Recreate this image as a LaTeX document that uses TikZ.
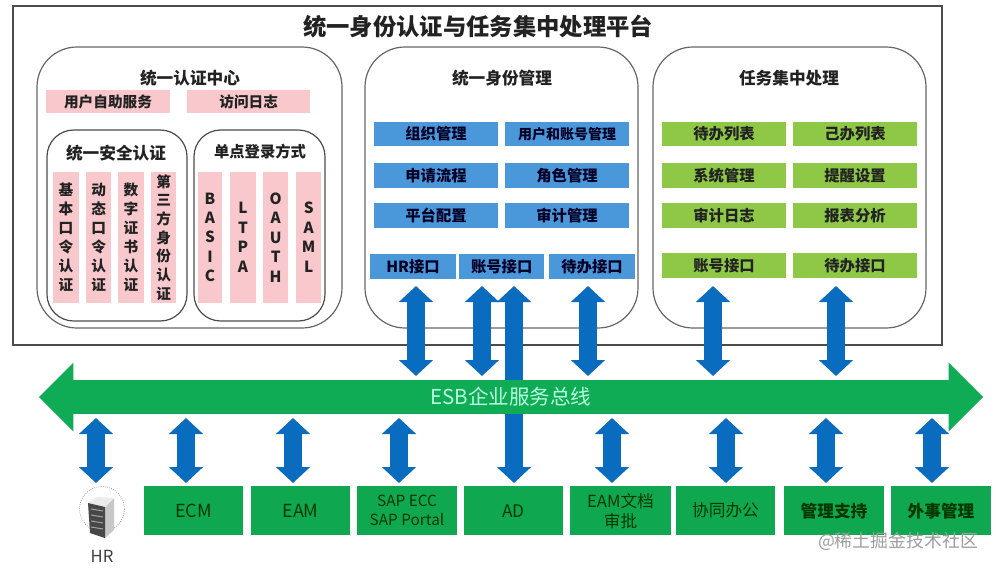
\documentclass[tikz,border=0pt]{standalone}
\usepackage{fontspec}
\setmainfont{Noto Sans CJK SC}
\usetikzlibrary{arrows.meta,shapes.arrows}
\definecolor{pinkbox}{HTML}{F8C8CC}
\definecolor{bluebox}{HTML}{4A98DA}
\definecolor{limebox}{HTML}{8FC847}
\definecolor{greenbox}{HTML}{0FA850}
\definecolor{busgreen}{HTML}{10AC55}
\definecolor{flowblue}{HTML}{0A6CBE}
\definecolor{inkdark}{HTML}{222222}
\newcommand{\sz}[2]{\fontsize{#1}{#2}\selectfont}
\tikzset{
  x=0.75pt,y=-0.75pt,
  panel/.style={draw=black!60,line width=0.9pt,fill=white,rounded corners=30pt},
  subpanel/.style={draw=black!70,line width=0.9pt,fill=white,rounded corners=20pt},
  plate/.style={anchor=north west,inner sep=0pt,outer sep=0pt,align=center,text=inkdark},
  pinkplate/.style={plate,fill=pinkbox},
  blueplate/.style={plate,fill=bluebox,text=black!85!blue},
  limeplate/.style={plate,fill=limebox},
  sysplate/.style={plate,fill=greenbox,text=black!78!green,minimum height=37pt},
  heading/.style={text=inkdark,inner sep=0pt},
  flow/.style={draw=flowblue,line width=12.8pt,{Triangle[width=25pt,length=12pt]}-{Triangle[width=25pt,length=12pt]}},
}
\begin{document}
\begin{tikzpicture}
\useasboundingbox (0,0) rectangle (996,568);
\fill[white] (0,0) rectangle (996,568);
% outer frame
\draw[draw=black!70,line width=1.5pt,fill=white] (13,6) rectangle (942,345);
\node[heading,font=\bfseries\sz{17.5}{20}] (title) at (478,26.5) {统一身份认证与任务集中处理平台};
% panels
\draw[panel] (37,47) rectangle (342,328);
\draw[panel] (365,47) rectangle (638,328);
\draw[panel] (653,47) rectangle (926,328);
\draw[subpanel] (47,130) rectangle (187,321);
\draw[subpanel] (194,130) rectangle (325,321);
\node[heading,font=\bfseries\sz{12.5}{15}] (t1) at (190,78) {统一认证中心};
\node[heading,font=\bfseries\sz{12.5}{15}] (t2) at (502,78) {统一身份管理};
\node[heading,font=\bfseries\sz{12.5}{15}] (t3) at (789,78) {任务集中处理};
\node[heading,font=\bfseries\sz{12.5}{15}] (t4) at (116,153) {统一安全认证};
\node[heading,font=\bfseries\sz{11.5}{14}] (t5) at (260,152) {单点登录方式};
% pink plates
\node[pinkplate,font=\bfseries\sz{11}{13},minimum width=93pt,minimum height=17.5pt] (p1) at (46,90) {用户自助服务};
\node[pinkplate,font=\bfseries\sz{11}{13},minimum width=92.5pt,minimum height=17.5pt] (p2) at (187,90) {访问日志};
\node[pinkplate,font=\bfseries\sz{11}{14.2},minimum width=19.5pt,minimum height=98pt] (v1) at (53,172) {基\\本\\口\\令\\认\\证};
\node[pinkplate,font=\bfseries\sz{11}{14.2},minimum width=19pt,minimum height=98pt] (v2) at (86,172) {动\\态\\口\\令\\认\\证};
\node[pinkplate,font=\bfseries\sz{11}{14.2},minimum width=19.5pt,minimum height=98pt] (v3) at (118,172) {数\\字\\证\\书\\认\\证};
\node[pinkplate,font=\bfseries\sz{11}{14},minimum width=19pt,minimum height=98pt] (v4) at (151,172) {第\\三\\方\\身\\份\\认\\证};
\node[pinkplate,font=\bfseries\sz{11.5}{14.6},minimum width=18pt,minimum height=98pt] (s1) at (198,172) {B\\A\\S\\I\\C};
\node[pinkplate,font=\bfseries\sz{11.5}{14.6},minimum width=19.5pt,minimum height=98pt] (s2) at (230,172) {L\\T\\P\\A};
\node[pinkplate,font=\bfseries\sz{11.5}{14.6},minimum width=19pt,minimum height=98pt] (s3) at (263,172) {O\\A\\U\\T\\H};
\node[pinkplate,font=\bfseries\sz{11.5}{14.6},minimum width=19pt,minimum height=98pt] (s4) at (296,172) {S\\A\\M\\L};
% blue plates
\node[blueplate,font=\bfseries\sz{11.5}{14},minimum width=93pt,minimum height=18pt] (b1) at (374,122) {组织管理};
\node[blueplate,font=\bfseries\sz{10.5}{13},minimum width=93pt,minimum height=18pt] (b2) at (505,122) {用户和账号管理};
\node[blueplate,font=\bfseries\sz{11.5}{14},minimum width=93pt,minimum height=19pt] (b3) at (374,163) {申请流程};
\node[blueplate,font=\bfseries\sz{11.5}{14},minimum width=93pt,minimum height=19pt] (b4) at (505,163) {角色管理};
\node[blueplate,font=\bfseries\sz{11.5}{14},minimum width=93pt,minimum height=19pt] (b5) at (374,203) {平台配置};
\node[blueplate,font=\bfseries\sz{11.5}{14},minimum width=93pt,minimum height=19pt] (b6) at (505,203) {审计管理};
\node[blueplate,font=\bfseries\sz{11.5}{14},minimum width=64.5pt,minimum height=18.5pt] (i1) at (370,254) {HR接口};
\node[blueplate,font=\bfseries\sz{11.5}{14},minimum width=64pt,minimum height=18.5pt] (i2) at (459,254) {账号接口};
\node[blueplate,font=\bfseries\sz{11.5}{14},minimum width=64.5pt,minimum height=18.5pt] (i3) at (549,254) {待办接口};
% lime plates
\node[limeplate,font=\bfseries\sz{11.5}{14},minimum width=93pt,minimum height=18pt] (g1) at (662,122) {待办列表};
\node[limeplate,font=\bfseries\sz{11.5}{14},minimum width=93pt,minimum height=18pt] (g2) at (793,122) {己办列表};
\node[limeplate,font=\bfseries\sz{11.5}{14},minimum width=93pt,minimum height=19pt] (g3) at (662,163) {系统管理};
\node[limeplate,font=\bfseries\sz{11.5}{14},minimum width=93pt,minimum height=19pt] (g4) at (793,163) {提醒设置};
\node[limeplate,font=\bfseries\sz{11.5}{14},minimum width=93pt,minimum height=19pt] (g5) at (662,203) {审计日志};
\node[limeplate,font=\bfseries\sz{11.5}{14},minimum width=93pt,minimum height=19pt] (g6) at (793,203) {报表分析};
\node[limeplate,font=\bfseries\sz{11.5}{14},minimum width=93pt,minimum height=19pt] (g7) at (662,253) {账号接口};
\node[limeplate,font=\bfseries\sz{11.5}{14},minimum width=93pt,minimum height=19pt] (g8) at (793,253) {待办接口};
% system boxes
\node[sysplate,font=\sz{13.5}{15},minimum width=74.25pt] (ecm) at (144,486) {ECM};
\node[sysplate,font=\sz{13.5}{15},minimum width=74.25pt] (eam) at (251,486) {EAM};
\node[sysplate,font=\sz{11.5}{14},minimum width=75pt] (sap) at (357,486) {SAP ECC\\SAP Portal};
\node[sysplate,font=\sz{13}{15},minimum width=74.25pt] (ad) at (464,486) {AD};
\node[sysplate,font=\sz{12.5}{15},minimum width=75.75pt] (doc) at (570,486) {EAM文档\\审批};
\node[sysplate,font=\sz{12.5}{15},minimum width=74.25pt] (oa) at (676,486) {协同办公};
\node[sysplate,font=\bfseries\sz{12.5}{15},minimum width=75pt] (mgr) at (784,486) {管理支持};
\node[sysplate,font=\bfseries\sz{12.5}{15},minimum width=75pt] (fa) at (891,486) {外事管理};
% connector end points
\coordinate (up1t) at (416,286); \coordinate (up1b) at (416,376);
\coordinate (up2t) at (482,286); \coordinate (up2b) at (482,376);
\coordinate (adt)  at (514,286); \coordinate (adb)  at (514,483);
\coordinate (up3t) at (588,286); \coordinate (up3b) at (588,376);
\coordinate (up4t) at (713,286); \coordinate (up4b) at (713,376);
\coordinate (up5t) at (836,286); \coordinate (up5b) at (836,376);
\coordinate (lo1t) at (96,418);  \coordinate (lo1b) at (96,483);
\coordinate (lo2t) at (186,418); \coordinate (lo2b) at (186,483);
\coordinate (lo3t) at (293,418); \coordinate (lo3b) at (293,483);
\coordinate (lo4t) at (399,418); \coordinate (lo4b) at (399,483);
\coordinate (lo5t) at (612,418); \coordinate (lo5b) at (612,483);
\coordinate (lo6t) at (726,418); \coordinate (lo6b) at (726,483);
\coordinate (lo7t) at (826,418); \coordinate (lo7b) at (826,483);
\coordinate (lo8t) at (932,418); \coordinate (lo8b) at (932,483);
% long AD arrow passes behind the bus
\draw[flow] (adt) -- (adb);
% bus
\node[double arrow,fill=busgreen,draw=none,inner sep=0pt,outer sep=0pt,
      text height=25pt,text depth=0pt,text width=1pt,
      minimum height=708pt,double arrow head extend=13pt,
      double arrow tip angle=90] (esb) at (511,397) {};
\node[inner sep=0pt,text=green!15!white!85!cyan,font=\sz{15.4}{18}] (esblabel) at (511,397) {ESB企业服务总线};
% arrows
\foreach \n in {up1,up2,up3,up4,up5,lo1,lo2,lo3,lo4,lo5,lo6,lo7,lo8}
  \draw[flow] (\n t) -- (\n b);
% HR server
\draw[black!40,line width=0.6pt,densely dotted] (102,509) circle[radius=22.5];
\fill[black!22] (105,507) -- (114,498) -- (114,530) -- (105,538) -- cycle;
\fill[black!8] (88,503) -- (97,497) -- (114,498) -- (105,507) -- cycle;
\fill[black!72] (88,503) -- (105,507) -- (105,538) -- (90,533) -- cycle;
\foreach \yy in {509,515,521,527}
  \draw[black!35,line width=0.7pt] (91,\yy) -- (103,\yy+2);
\node[inner sep=0pt,text=black!75,font=\sz{12.5}{15}] (hr) at (102,556) {HR};
% watermark
\node[inner sep=0pt,text=black!38,font=\sz{13.4}{15}] (mark) at (898,541) {@稀土掘金技术社区};
\end{tikzpicture}
\end{document}
